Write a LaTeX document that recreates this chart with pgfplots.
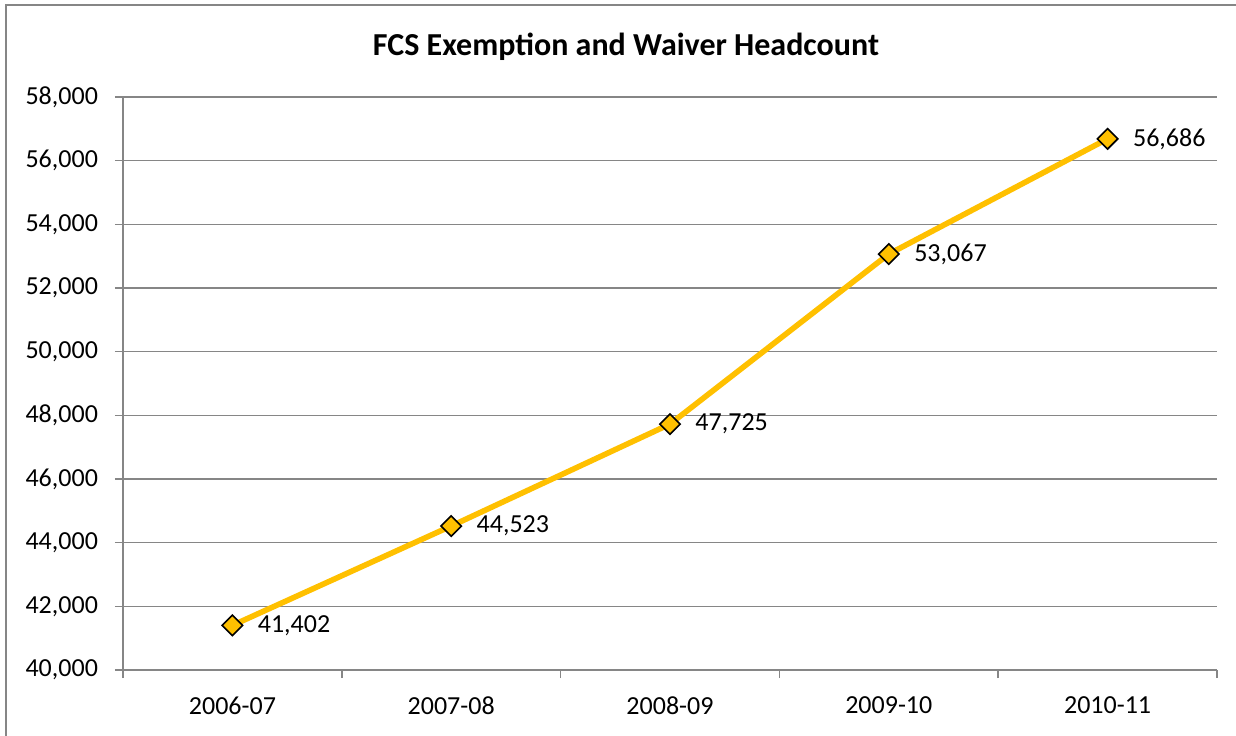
\documentclass[border=0pt]{standalone}
\usepackage{pgfplots}
\pgfplotsset{compat=1.18}
\usepackage{fontspec}
\setmainfont{Carlito}
\definecolor{gold}{HTML}{FFC000}
\definecolor{gridgray}{HTML}{868686}
\begin{document}
\begin{tikzpicture}
\useasboundingbox (0pt,0pt) rectangle (618pt,367.5pt);
\draw[gridgray, line width=1.2pt] (3pt,365pt) rectangle (650pt,-25pt);
\node[font=\bfseries\fontsize{16}{19}\selectfont] at (313pt,344pt) {FCS Exemption and Waiver Headcount};
\begin{axis}[
  at={(61.5pt,32.5pt)}, anchor=south west,
  scale only axis, width=547pt, height=286.5pt,
  xmin=0, xmax=5, ymin=40000, ymax=58000,
  xtick={0,1,2,3,4,5},
  x tick label as interval,
  xticklabels={2006-07,2007-08,2008-09,2009-10,2010-11},
  ytick={40000,42000,...,58000},
  axis x line=bottom, axis y line=left,
  axis line style={-, gridgray, line width=0.8pt},
  tick style={gridgray, line width=0.8pt},
  tick align=outside, major tick length=4pt,
  ymajorgrids, grid style={gridgray, line width=0.8pt},
  /pgf/number format/.cd, 1000 sep={,}, assume math mode=true,
  /pgfplots/.cd,
  ticklabel style={font=\fontsize{13}{15}\selectfont, text=black},
  yticklabel style={xshift=-5pt},
  xticklabel style={yshift=-6pt},
  scaled y ticks=false,
  clip=false,
]
\addplot[gold, line width=2.8pt, mark=square*, mark size=3.6pt,
  mark options={rotate=45, fill=gold, draw=black, line width=0.8pt},
  nodes near coords, point meta=explicit symbolic,
  every node near coord/.style={anchor=west, xshift=9pt, font=\fontsize{13}{15}\selectfont, text=black}]
  table[meta=lab] {
x y lab
0.5 41402 41,402
1.5 44523 44,523
2.5 47725 47,725
3.5 53067 53,067
4.5 56686 56,686
};
\end{axis}
\end{tikzpicture}
\end{document}
